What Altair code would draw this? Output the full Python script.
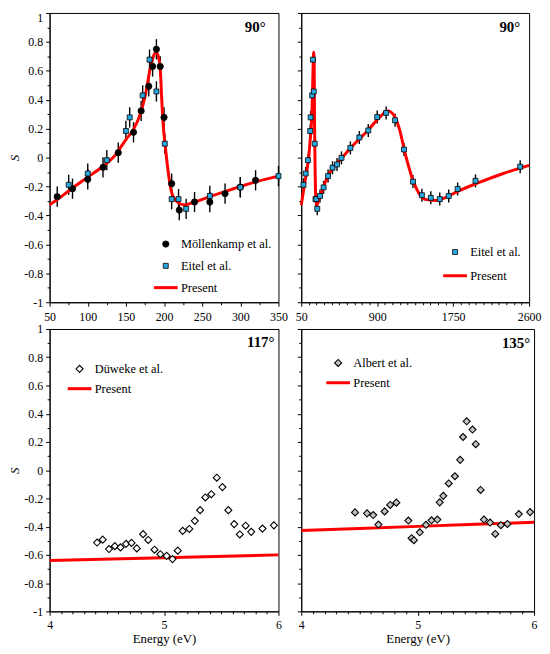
import altair as alt
import pandas as pd

FONT = "Liberation Serif, Times New Roman, serif"
BLUE = "#29A8E0"
RED = "#FF0000"

# ---------------- data ----------------
# 90 deg: Möllenkamp et al.
mol_e = [60, 80, 100, 120, 140, 160, 170, 180, 185, 190, 195, 200, 210, 220, 240, 260, 280, 300, 320]
mol_s = [-0.27, -0.215, -0.15, -0.067, 0.034, 0.175, 0.323, 0.493, 0.63, 0.749, 0.63, 0.278,
         -0.18, -0.363, -0.307, -0.307, -0.249, -0.204, -0.157]
# 90 deg: Eitel et al.
eit_e = [75, 100, 125, 150, 155, 172, 181, 190, 201, 210, 219, 229, 260, 300, 350,
         400, 450, 500, 600, 700, 800, 900, 1000, 1100, 1200, 1300, 1400, 1500, 1600,
         1700, 1800, 2000, 2500]
eit_s = [-0.188, -0.11, -0.018, 0.184, 0.278, 0.43, 0.677, 0.457, 0.096, -0.287, -0.287, -0.354,
         -0.265, -0.206, -0.128,
         -0.07, -0.047, -0.002, 0.067, 0.139, 0.188, 0.28, 0.309, 0.258, 0.056, -0.166, -0.26,
         -0.278, -0.287, -0.265, -0.217, -0.161, -0.063]
err_low = 0.07     # error bar half-length, low-energy panel
err_high = 0.045   # error bar half-length, wide-energy panel
# 90 deg: present theory
p90_e = [50, 60, 80, 100, 120, 135, 150, 160, 170, 176, 182, 186, 189.5, 192.5, 195, 197, 199,
         202, 205.5, 209.5, 216, 227, 237, 260, 280, 300, 320, 350,
         400, 450, 493, 638, 784, 929, 1020, 1092, 1147, 1219, 1292, 1365, 1438, 1547, 1656,
         1802, 2020, 2311, 2600]
p90_s = [-0.327, -0.29, -0.21, -0.135, -0.06, 0.01, 0.125, 0.195, 0.32, 0.445, 0.62, 0.70, 0.728,
         0.70, 0.62, 0.40, 0.22, 0.06, -0.10, -0.232, -0.30, -0.327, -0.312, -0.27, -0.235, -0.2,
         -0.168, -0.128,
         -0.075, -0.04, -0.01, 0.09, 0.18, 0.28, 0.323, 0.287, 0.2, 0.013, -0.143, -0.244, -0.289,
         -0.296, -0.278, -0.233, -0.177, -0.11, -0.054]

# 117 deg: Düweke et al.
due_e = [4.415, 4.464, 4.519, 4.570, 4.619, 4.668, 4.716, 4.762, 4.817, 4.862, 4.917, 4.968,
         5.023, 5.074, 5.120, 5.163, 5.221, 5.269, 5.315, 5.361, 5.413, 5.461, 5.510, 5.562,
         5.613, 5.662, 5.713, 5.762, 5.860, 5.960]
due_s = [-0.513, -0.492, -0.559, -0.538, -0.547, -0.522, -0.515, -0.554, -0.453, -0.494, -0.563,
         -0.595, -0.607, -0.63, -0.570, -0.430, -0.416, -0.359, -0.283, -0.193, -0.170, -0.053,
         -0.120, -0.283, -0.382, -0.455, -0.393, -0.437, -0.414, -0.391]
p117_e = [4.0, 5.0, 6.0]
p117_s = [-0.64, -0.62, -0.60]

# 135 deg: Albert et al.
alb_e = [4.462, 4.565, 4.618, 4.663, 4.716, 4.764, 4.817, 4.920, 4.948, 4.968, 5.018, 5.071,
         5.119, 5.169, 5.189, 5.220, 5.267, 5.320, 5.365, 5.390, 5.421, 5.471, 5.499, 5.541,
         5.569, 5.622, 5.667, 5.715, 5.771, 5.869, 5.966]
alb_s = [-0.299, -0.306, -0.318, -0.385, -0.292, -0.246, -0.230, -0.357, -0.482, -0.496, -0.440,
         -0.387, -0.355, -0.350, -0.228, -0.182, -0.094, -0.043, 0.073, 0.235, 0.346, 0.288,
         0.184, -0.140, -0.350, -0.371, -0.452, -0.390, -0.381, -0.311, -0.297]
p135_e = [4.0, 5.0, 6.0]
p135_s = [-0.427, -0.398, -0.369]

Y_TICKS = [round(-1 + 0.1 * i, 1) for i in range(21)]
X1_TICKS = [50 + 25 * i for i in range(13)]
X2_TICKS = [50 + 85 * i for i in range(31)]
X3_TICKS = [round(4 + 0.1 * i, 1) for i in range(21)]

Y_MAJOR = "abs(round(datum.value*10)) % 2 == 0"
Y_LABEL = ("abs(round(datum.value*10)) % 2 == 0 ? ((datum.value < -0.001 ? '-' : '') + "
           "format(abs(datum.value), '.1~f')) : ''")


def y_axis(left, top_row):
    kw = dict(values=Y_TICKS, grid=False, labelExpr=Y_LABEL,
              tickSize={"condition": {"test": Y_MAJOR, "value": 4}, "value": 2.5},
              labelPadding=3)
    if left:
        kw.update(title="S", titleFontStyle="italic", titleFontSize=13, titlePadding=2)
        if top_row:
            kw["labelBaseline"] = {"condition": {"test": "datum.value > 0.99", "value": "top"},
                                   "value": "middle"}
    else:
        kw.update(title=None, labels=False)
    return alt.Axis(**kw)


def x_axis(values, major_test, title=None):
    kw = dict(values=values, grid=False,
              labelExpr=f"({major_test}) ? format(datum.value, '~g') : ''",
              tickSize={"condition": {"test": major_test, "value": 4}, "value": 2.5},
              labelFlush=False)
    if title:
        kw.update(title=title, titleFontSize=13, titlePadding=2, labelPadding=4)
    else:
        kw.update(title=None, labelPadding=5)
    return alt.Axis(**kw)


def panel(points, line, series_dom, fills, strokes, shapes, sizes, sws, err, xdom, xaxis,
          yaxis, angle, w, h, legx, legy, rowpad, labx, laby):
    leg = alt.Legend(title=None, orient="none", legendX=legx, legendY=legy,
                     labelFont=FONT, labelFontSize=12.5, labelColor="black",
                     rowPadding=rowpad, labelOffset=9)
    xs = alt.Scale(domain=xdom, nice=False, zero=False)
    ys = alt.Scale(domain=[-1, 1], nice=False)

    def sc(rng, ordinal=False):
        if ordinal:
            return alt.Scale(type="ordinal", domain=series_dom, range=rng)
        return alt.Scale(domain=series_dom, range=rng)

    layers = []
    if err:
        layers.append(
            alt.Chart(points).transform_calculate(
                lo=f"datum.S - {err}", hi=f"datum.S + {err}"
            ).mark_rule(color="black", strokeWidth=1.4).encode(
                x=alt.X("E:Q", scale=xs, axis=xaxis),
                y=alt.Y("lo:Q", scale=ys, axis=yaxis),
                y2="hi:Q",
            )
        )
    layers.append(
        alt.Chart(line).mark_line(interpolate="monotone").encode(
            x=alt.X("E:Q", scale=xs, axis=xaxis),
            y=alt.Y("S:Q", scale=ys, axis=yaxis),
            stroke=alt.Stroke("series:N", scale=sc(strokes), legend=leg),
            strokeWidth=alt.StrokeWidth("series:N", scale=sc(sws, True), legend=leg),
        )
    )
    layers.append(
        alt.Chart(points).mark_point(opacity=1).encode(
            x=alt.X("E:Q", scale=xs, axis=xaxis),
            y=alt.Y("S:Q", scale=ys, axis=yaxis),
            fill=alt.Fill("series:N", scale=sc(fills), legend=leg),
            stroke=alt.Stroke("series:N", scale=sc(strokes), legend=leg),
            shape=alt.Shape("series:N", scale=sc(shapes), legend=leg),
            size=alt.Size("series:N", scale=sc(sizes, True), legend=leg),
            strokeWidth=alt.StrokeWidth("series:N", scale=sc(sws, True), legend=leg),
        )
    )
    layers.append(
        alt.Chart(pd.DataFrame({"label": [angle]})).mark_text(
            align="right", baseline="middle", font=FONT, fontSize=15, fontWeight="bold",
            color="black"
        ).encode(x=alt.value(w - labx), y=alt.value(laby), text="label:N")
    )
    return alt.layer(*layers).properties(width=w, height=h)


LINE_SHAPE = "M-4,0H4"
H_TOP, H_BOT = 292, 285

# Panel 1
d_mol = pd.DataFrame({"E": mol_e, "S": mol_s, "series": "Möllenkamp et al."})
d_eit = pd.DataFrame({"E": eit_e, "S": eit_s, "series": "Eitel et al."})
d_p90 = pd.DataFrame({"E": p90_e, "S": p90_s, "series": "Present"})
pts1 = pd.concat([d_mol, d_eit[d_eit.E <= 350]])
dom1 = ["Möllenkamp et al.", "Eitel et al.", "Present"]
p1 = panel(pts1, d_p90[d_p90.E <= 350], dom1,
           ["black", BLUE, RED], ["black", "black", RED],
           ["circle", "square", LINE_SHAPE], [40, 25, 36], [0.8, 0.8, 3],
           err_low, [50, 350], x_axis(X1_TICKS, "datum.value % 50 == 0"),
           y_axis(True, True), "90°", 231, H_TOP, 111, 227, 9, 13, 14)

dom2 = ["Eitel et al.", "Present"]
p2 = panel(d_eit, d_p90, dom2,
           [BLUE, RED], ["black", RED], ["square", LINE_SHAPE], [25, 36], [0.8, 3],
           err_high, [50, 2600], x_axis(X2_TICKS, "(datum.value - 50) % 850 == 0"),
           y_axis(False, True), "90°", 230, H_TOP, 149, 235, 11, 9, 14)

d_due = pd.DataFrame({"E": due_e, "S": due_s, "series": "Düweke et al."})
d_p117 = pd.DataFrame({"E": p117_e, "S": p117_s, "series": "Present"})
dom3 = ["Düweke et al.", "Present"]
MAJ3 = "abs(datum.value - round(datum.value)) < 0.001"
p3 = panel(d_due, d_p117, dom3,
           ["white", RED], ["black", RED], ["diamond", LINE_SHAPE], [50, 36], [1.1, 3],
           None, [4, 6], x_axis(X3_TICKS, MAJ3, "Energy (eV)"),
           y_axis(True, False), "117°", 231, H_BOT, 24, 34, 7, 4, 13)

d_alb = pd.DataFrame({"E": alb_e, "S": alb_s, "series": "Albert et al."})
d_p135 = pd.DataFrame({"E": p135_e, "S": p135_s, "series": "Present"})
dom4 = ["Albert et al.", "Present"]
p4 = panel(d_alb, d_p135, dom4,
           ["#C4C4C4", RED], ["black", RED], ["diamond", LINE_SHAPE], [50, 36], [1.1, 3],
           None, [4, 6], x_axis(X3_TICKS, MAJ3, "Energy (eV)"),
           y_axis(False, False), "135°", 235, H_BOT, 31, 28, 7, 4, 14)

chart = alt.concat(
    p1, p2, p3, p4, columns=2, spacing={"row": 27, "column": 23}, bounds="flush", align="each"
).resolve_scale(
    fill="independent", stroke="independent", shape="independent", size="independent",
    strokeWidth="independent"
).properties(
    padding={"left": 0, "top": 0, "right": 0, "bottom": 0}
).configure(font=FONT).configure_view(
    stroke="black", strokeWidth=1
).configure_axis(
    domainColor="black", tickColor="black", labelColor="black", titleColor="black",
    labelFont=FONT, titleFont=FONT, labelFontSize=12, titleFontWeight="normal",
    domainWidth=1, tickWidth=1
).configure_legend(
    labelFont=FONT
)

chart.save("out.html", embed_options={"renderer": "svg", "actions": False})
